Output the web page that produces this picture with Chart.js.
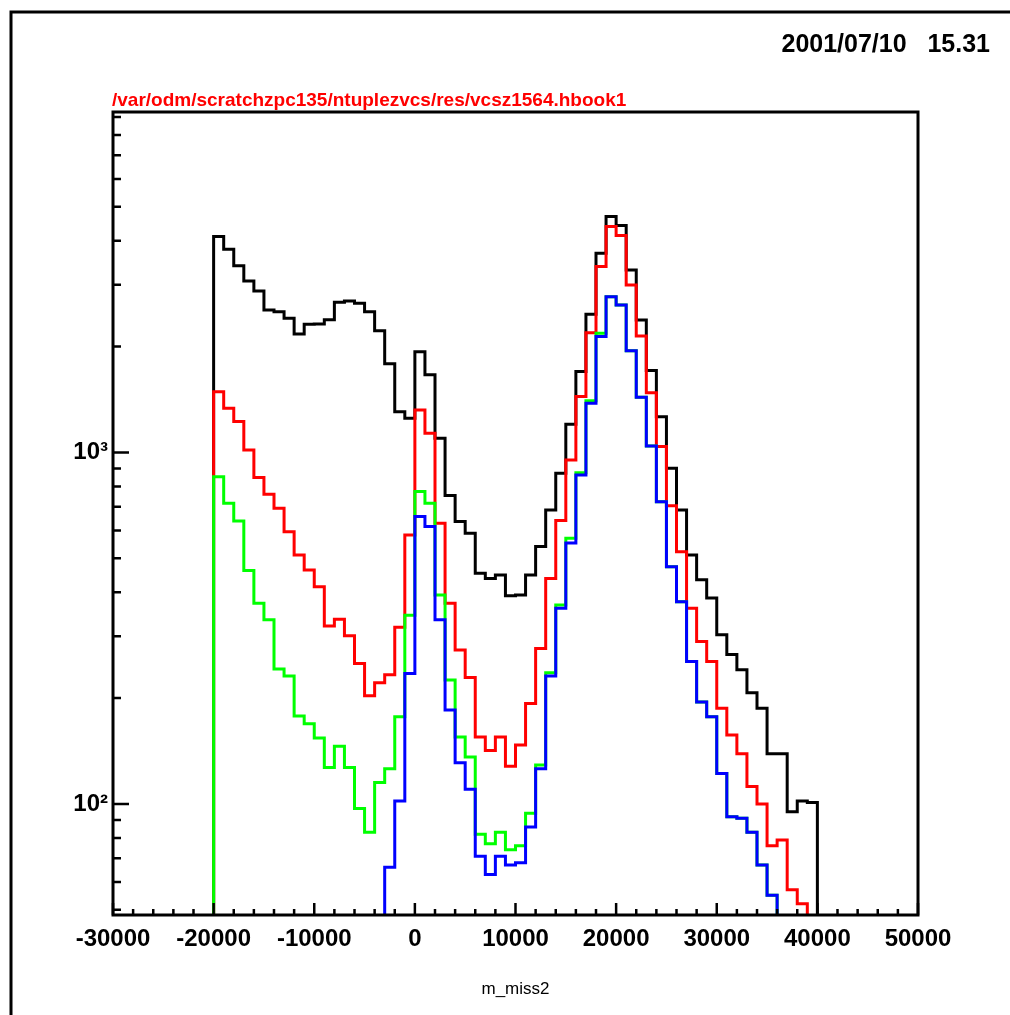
<!DOCTYPE html>
<html>
<head>
<meta charset="utf-8">
<script src="https://cdn.jsdelivr.net/npm/chart.js@4.4.1/dist/chart.umd.min.js"></script>
<style>
  html, body { margin: 0; padding: 0; background: #ffffff; }
</style>
</head>
<body>
<canvas id="hist" width="1010" height="1015"></canvas>
<script>
// bin edges of m_miss2 (1000 wide bins)
const binEdges = [
  -20000, -19000, -18000, -17000, -16000, -15000, -14000, -13000, -12000, -11000,
  -10000, -9000, -8000, -7000, -6000, -5000, -4000, -3000, -2000, -1000,
  0, 1000, 2000, 3000, 4000, 5000, 6000, 7000, 8000, 9000,
  10000, 11000, 12000, 13000, 14000, 15000, 16000, 17000, 18000, 19000,
  20000, 21000, 22000, 23000, 24000, 25000, 26000, 27000, 28000, 29000,
  30000, 31000, 32000, 33000, 34000, 35000, 36000, 37000, 38000, 39000,
  40000
];

// bin contents, one value per bin
const allEvents = [
  4111, 3785, 3399, 3076, 2877, 2543, 2515, 2410, 2173, 2316,
  2321, 2383, 2675, 2698, 2657, 2515, 2218, 1787, 1306, 1251,
  1935, 1662, 1097, 754, 636, 589, 453, 438, 448, 391,
  393, 448, 540, 686, 872, 1203, 1698, 2473, 3687, 4690,
  4418, 3305, 2382, 1710, 1264, 901, 686, 511, 434, 385,
  303, 266, 241, 207, 187, 139, 139, 95, 102, 101
];
const redCut = [
  1489, 1336, 1224, 1016, 848, 760, 694, 595, 511, 463,
  415, 321, 335, 301, 251, 203, 221, 233, 318, 582,
  1321, 1134, 629, 372, 274, 229, 155, 142, 155, 128,
  147, 193, 277, 438, 640, 952, 1442, 2191, 3378, 4390,
  4140, 2995, 2145, 1479, 1039, 705, 522, 360, 290, 254,
  187, 157, 139, 112, 100, 76, 79, 57, 52, 40
];
const greenCut = [
  853, 717, 638, 461, 372, 334, 242, 231, 178, 169,
  154, 127, 146, 127, 97, 83, 115, 126, 177, 344,
  774, 717, 393, 225, 155, 136, 82, 77, 83, 74,
  76, 94, 129, 236, 368, 570, 876, 1402, 2183, 2774,
  2628, 1948, 1436, 1043, 724, 473, 376, 254, 195, 177,
  122, 92, 91, 83, 67, 55, 40, 0, 0, 0
];
const blueCut = [
  0, 0, 0, 0, 0, 0, 0, 0, 0, 0,
  0, 0, 0, 0, 0, 0, 40, 66, 102, 235,
  657, 615, 334, 185, 131, 110, 71, 63, 71, 67,
  68, 86, 126, 231, 360, 552, 863, 1380, 2136, 2774,
  2628, 1948, 1436, 1043, 724, 473, 376, 254, 195, 177,
  122, 92, 91, 83, 67, 55, 40, 0, 0, 0
];

const xTicks = [-30000, -20000, -10000, 0, 10000, 20000, 30000, 40000, 50000];
const yTicks = [100, 1000];
const yTickLabels = ['10²', '10³'];

const fileName = '/var/odm/scratchzpc135/ntuplezvcs/res/vcsz1564.hbook1';
const stamp = '2001/07/10   15.31';

// histogram outline: hold each bin value up to the next edge
function steps(vals) {
  const pts = [{ x: binEdges[0], y: 1 }];
  vals.forEach((v, i) => pts.push({ x: binEdges[i], y: v > 0 ? v : 1 }));
  pts.push({ x: binEdges[binEdges.length - 1], y: 1 });
  return pts;
}

function line(vals, color, order) {
  return {
    data: steps(vals),
    borderColor: color,
    borderWidth: 3,
    stepped: 'before',
    pointRadius: 0,
    fill: false,
    order: order
  };
}

// frame, inner ticks and the PAW header texts
const pawFrame = {
  id: 'pawFrame',
  afterDraw(chart) {
    const { ctx, chartArea: a, scales: { x, y } } = chart;
    ctx.save();
    ctx.strokeStyle = '#000';
    ctx.lineWidth = 3;
    ctx.beginPath();
    ctx.moveTo(11, 1015);
    ctx.lineTo(11, 12);
    ctx.lineTo(1010, 12);
    ctx.stroke();
    ctx.strokeRect(a.left, a.top, a.right - a.left, a.bottom - a.top);

    ctx.lineWidth = 2.5;
    ctx.beginPath();
    for (let v = -30000; v <= 50000; v += 2000) {
      const px = x.getPixelForValue(v);
      const len = v % 10000 === 0 ? 12 : 6;
      ctx.moveTo(px, a.bottom);
      ctx.lineTo(px, a.bottom - len);
    }
    for (let d = 10; d <= 1000; d *= 10) {
      for (let m = 1; m <= 9; m++) {
        const v = d * m;
        if (v < y.min || v > y.max) continue;
        const py = y.getPixelForValue(v);
        ctx.moveTo(a.left, py);
        ctx.lineTo(a.left + (m === 1 ? 16 : 8), py);
      }
    }
    ctx.stroke();

    ctx.textBaseline = 'alphabetic';
    ctx.fillStyle = '#ff0000';
    ctx.font = 'bold 19px "Liberation Sans"';
    ctx.textAlign = 'left';
    ctx.fillText(fileName, 112, 106);
    ctx.fillStyle = '#000';
    ctx.font = 'bold 25px "Liberation Sans"';
    ctx.textAlign = 'right';
    ctx.fillText(stamp, 990, 52);
    ctx.restore();
  }
};

new Chart(document.getElementById('hist'), {
  type: 'line',
  data: {
    datasets: [
      line(allEvents, '#000000', 4),
      line(redCut, '#ff0000', 3),
      line(greenCut, '#00ff00', 2),
      line(blueCut, '#0000ff', 1)
    ]
  },
  options: {
    responsive: false,
    animation: false,
    layout: { padding: { left: 13, right: 92, top: 112, bottom: 0 } },
    plugins: { legend: { display: false }, tooltip: { enabled: false } },
    scales: {
      x: {
        type: 'linear',
        min: -30000,
        max: 50000,
        grid: { display: false, drawTicks: false },
        border: { display: false },
        afterBuildTicks: s => { s.ticks = xTicks.map(v => ({ value: v })); },
        afterFit: s => { s.height = 100; s.paddingLeft = 0; s.paddingRight = 0; },
        ticks: {
          autoSkip: false,
          maxRotation: 0,
          padding: 10,
          color: '#000',
          font: { family: 'Liberation Sans', size: 24, weight: 'bold' },
          callback: v => String(v)
        },
        title: {
          display: true,
          text: 'm_miss2',
          color: '#000',
          font: { family: 'Liberation Sans', size: 17 },
          padding: { top: 0, bottom: 15 }
        }
      },
      y: {
        type: 'logarithmic',
        min: 48.3,
        max: 9300,
        grid: { display: false, drawTicks: false },
        border: { display: false },
        afterBuildTicks: s => { s.ticks = yTicks.map(v => ({ value: v })); },
        afterFit: s => { s.width = 100; s.paddingTop = 0; s.paddingBottom = 0; },
        ticks: {
          autoSkip: false,
          padding: 5,
          color: '#000',
          font: { family: 'Liberation Sans', size: 24, weight: 'bold' },
          callback: v => {
            const i = yTicks.indexOf(v);
            return i >= 0 ? yTickLabels[i] : '';
          }
        }
      }
    }
  },
  plugins: [pawFrame]
});
</script>
</body>
</html>
